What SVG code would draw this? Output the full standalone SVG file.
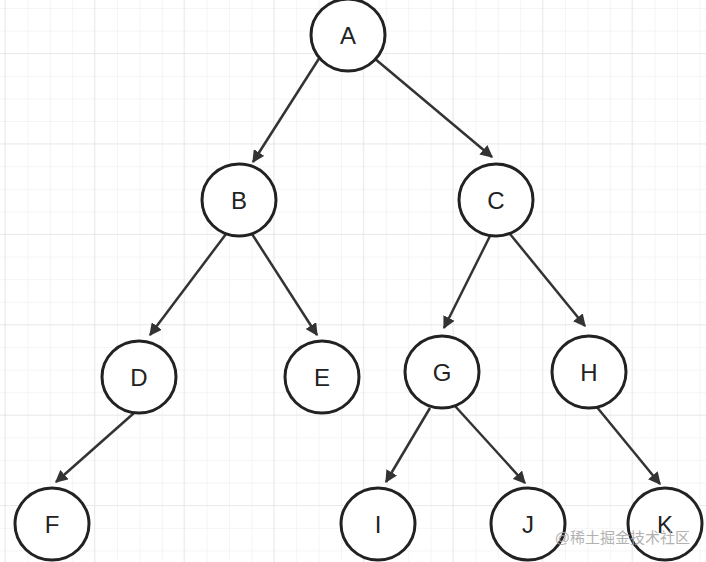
<svg xmlns="http://www.w3.org/2000/svg" width="706" height="562" viewBox="0 0 706 562">
<defs>
<pattern id="g" x="5" y="8" width="22.4" height="22.6" patternUnits="userSpaceOnUse"><path d="M0 0H22.4M0 0V22.6" fill="none" stroke="#ececec" stroke-width="1"/></pattern>
<pattern id="G" x="94" y="53" width="89.6" height="90.4" patternUnits="userSpaceOnUse"><path d="M0 0H89.6M0 0V90.4" fill="none" stroke="#dedede" stroke-width="1"/></pattern>
<marker id="ar" viewBox="0 0 10 10" refX="9" refY="5" markerWidth="5" markerHeight="5" orient="auto"><path d="M0 0L10 5L0 10z" fill="#333"/></marker>
</defs>
<style>
.n ellipse{fill:#fff;stroke:#222;stroke-width:3}
.n text{font-family:"Liberation Sans",Arial,sans-serif;font-size:24px;text-anchor:middle;dominant-baseline:central;fill:#222}
#edges line{stroke:#333;stroke-width:2.5;marker-end:url(#ar)}
</style>
<rect width="706" height="562" fill="#fff"/>
<rect width="706" height="562" fill="url(#g)"/>
<rect width="706" height="562" fill="url(#G)"/>
<g id="edges">
<line x1="320" y1="57" x2="253" y2="162"/>
<line x1="374" y1="58" x2="492" y2="157"/>
<line x1="226" y1="234" x2="150" y2="335"/>
<line x1="252" y1="234" x2="317" y2="335"/>
<line x1="490" y1="236" x2="444" y2="328"/>
<line x1="510" y1="234" x2="585" y2="326"/>
<line x1="134" y1="413" x2="56" y2="482"/>
<line x1="430" y1="408" x2="386" y2="482"/>
<line x1="455" y1="406" x2="525" y2="483"/>
<line x1="596" y1="406" x2="660" y2="484"/>
</g>
<g id="nA" class="n"><ellipse cx="348" cy="35" rx="37" ry="36"/><text x="348" y="35">A</text></g>
<g id="nB" class="n"><ellipse cx="239" cy="200" rx="37" ry="36"/><text x="239" y="200">B</text></g>
<g id="nC" class="n"><ellipse cx="496" cy="200" rx="37" ry="36"/><text x="496" y="200">C</text></g>
<g id="nD" class="n"><ellipse cx="139" cy="377" rx="37" ry="36"/><text x="139" y="377">D</text></g>
<g id="nE" class="n"><ellipse cx="322" cy="377" rx="37" ry="36"/><text x="322" y="377">E</text></g>
<g id="nG" class="n"><ellipse cx="442" cy="372" rx="37" ry="36"/><text x="442" y="372">G</text></g>
<g id="nH" class="n"><ellipse cx="589" cy="372" rx="37" ry="36"/><text x="589" y="372">H</text></g>
<g id="nF" class="n"><ellipse cx="52" cy="524" rx="37" ry="36"/><text x="52" y="524">F</text></g>
<g id="nI" class="n"><ellipse cx="378" cy="524" rx="37" ry="36"/><text x="378" y="524">I</text></g>
<g id="nJ" class="n"><ellipse cx="528" cy="524" rx="37" ry="36"/><text x="528" y="524">J</text></g>
<g id="nK" class="n"><ellipse cx="665" cy="524" rx="37" ry="36"/><text x="665" y="524">K</text></g>
<text x="690" y="543" text-anchor="end" font-family="'Liberation Sans','Noto Sans CJK SC',sans-serif" font-size="15" fill="#aaa" opacity="0.9">@稀土掘金技术社区</text>
</svg>
